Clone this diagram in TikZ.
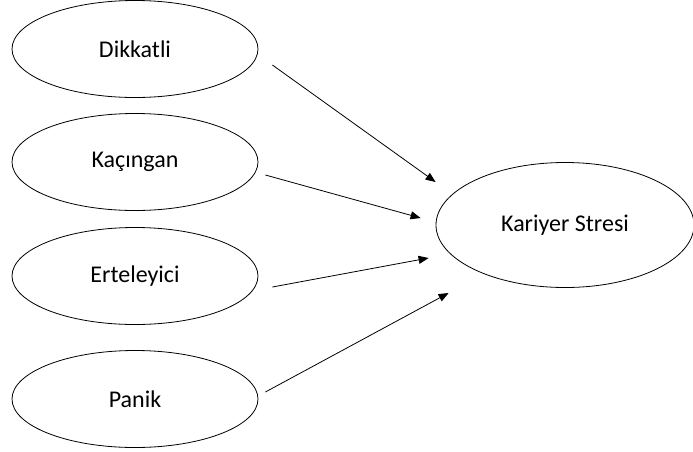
\documentclass[tikz,border=0pt]{standalone}
\usepackage{fontspec}
\setmainfont{Carlito}
\usetikzlibrary{calc,arrows.meta,positioning,shapes.geometric}

\tikzset{
  factor/.style={draw, ellipse, line width=0.6pt, minimum width=246*0.75pt, minimum height=97*0.75pt, inner sep=0pt, font=\fontsize{18}{21}\selectfont},
  outcome/.style={factor, minimum width=258*0.75pt, minimum height=125*0.75pt},
  link/.style={line width=0.6pt, -{Triangle[length=7.5pt, width=6pt]}}
}

\begin{document}
\begin{tikzpicture}[x=0.75pt, y=-0.75pt]
			%%%%% START %%%%%
			\useasboundingbox (0, 0) rectangle (693, 451);
			
			\node[factor] (dik) at (135, 49) {Dikkatli};
			\node[factor] (kac) at (135, 162) {Kaçıngan};
			\node[factor] (ert) at (135, 276) {Erteleyici};
			\node[factor] (pan) at (135, 399) {Panik};
			
			\node[outcome] (kar) at (565, 225) {Kariyer Stresi};
			
			\coordinate (dikout) at ($(dik.east)+(14, 16)$);
			\coordinate (kacout) at ($(kac.east)+(7, 13)$);
			\coordinate (ertout) at ($(ert.east)+(14, 11)$);
			\coordinate (panout) at ($(pan.east)+(7, -7)$);
			
			\coordinate (karin1) at ($(kar.west)+(0, -43)$);
			\coordinate (karin2) at ($(kar.west)+(-15, -7)$);
			\coordinate (karin3) at ($(kar.west)+(-7, 33)$);
			\coordinate (karin4) at ($(kar.west)+(13, 68)$);
			
			\draw[link] (dikout) -- (karin1);
			\draw[link] (kacout) -- (karin2);
			\draw[link] (ertout) -- (karin3);
			\draw[link] (panout) -- (karin4);
			
			%%%%% END %%%%%
\end{tikzpicture}
\end{document}
